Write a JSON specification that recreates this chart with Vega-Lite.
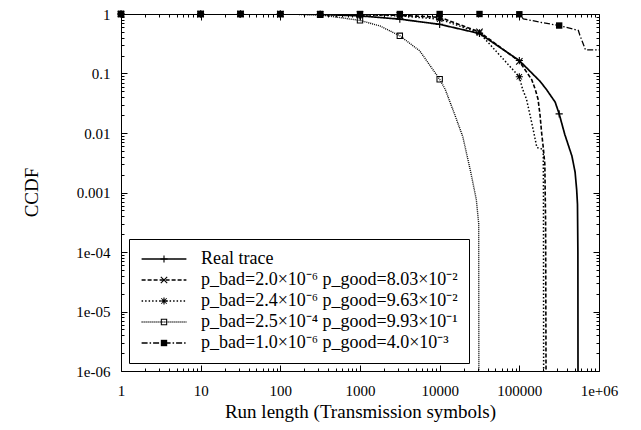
{
  "$schema": "https://vega.github.io/schema/vega-lite/v6.json",
  "width": 478,
  "height": 357,
  "autosize": "none",
  "padding": {"left": 121, "top": 14, "right": 42, "bottom": 59},
  "background": "white",
  "config": {
    "font": "Liberation Serif",
    "view": {"stroke": "black", "strokeWidth": 1},
    "style": {"guide-label": {"font": "Liberation Serif", "fill": "black"}, "guide-title": {"font": "Liberation Serif", "fill": "black"}},
    "axis": {"domain": false, "grid": false, "labelFont": "Liberation Serif", "labelFontSize": 15, "labelColor": "black", "tickColor": "black", "tickWidth": 1, "titleFont": "Liberation Serif", "titleFontSize": 19, "titleFontWeight": "normal", "titleColor": "black"},
    "legend": {"labelFont": "Liberation Serif", "labelFontSize": 18, "labelColor": "black", "labelLimit": 600}
  },
  "datasets": {
    "curves": [
      {"series": "Real trace", "x": 1, "y": 1},
      {"series": "Real trace", "x": 10, "y": 1},
      {"series": "Real trace", "x": 31.62, "y": 1},
      {"series": "Real trace", "x": 100, "y": 0.998},
      {"series": "Real trace", "x": 316.2, "y": 0.985},
      {"series": "Real trace", "x": 1000, "y": 0.93},
      {"series": "Real trace", "x": 3162, "y": 0.82},
      {"series": "Real trace", "x": 10000, "y": 0.67},
      {"series": "Real trace", "x": 31623, "y": 0.47},
      {"series": "Real trace", "x": 100000, "y": 0.165},
      {"series": "Real trace", "x": 181970, "y": 0.074},
      {"series": "Real trace", "x": 218776, "y": 0.054},
      {"series": "Real trace", "x": 281838, "y": 0.033},
      {"series": "Real trace", "x": 316228, "y": 0.021},
      {"series": "Real trace", "x": 371535, "y": 0.0095},
      {"series": "Real trace", "x": 457088, "y": 0.0041},
      {"series": "Real trace", "x": 501187, "y": 0.0022},
      {"series": "Real trace", "x": 524807, "y": 0.0011},
      {"series": "Real trace", "x": 537032, "y": 0.00063},
      {"series": "Real trace", "x": 543250, "y": 0.0001},
      {"series": "Real trace", "x": 545000, "y": 0.000001},

      {"series": "p_bad=2.0×10⁻⁶ p_good=8.03×10⁻²", "x": 1, "y": 1},
      {"series": "p_bad=2.0×10⁻⁶ p_good=8.03×10⁻²", "x": 10, "y": 1},
      {"series": "p_bad=2.0×10⁻⁶ p_good=8.03×10⁻²", "x": 31.62, "y": 1},
      {"series": "p_bad=2.0×10⁻⁶ p_good=8.03×10⁻²", "x": 100, "y": 0.999},
      {"series": "p_bad=2.0×10⁻⁶ p_good=8.03×10⁻²", "x": 316.2, "y": 0.99},
      {"series": "p_bad=2.0×10⁻⁶ p_good=8.03×10⁻²", "x": 1000, "y": 0.98},
      {"series": "p_bad=2.0×10⁻⁶ p_good=8.03×10⁻²", "x": 3162, "y": 0.95},
      {"series": "p_bad=2.0×10⁻⁶ p_good=8.03×10⁻²", "x": 10000, "y": 0.88},
      {"series": "p_bad=2.0×10⁻⁶ p_good=8.03×10⁻²", "x": 31623, "y": 0.5},
      {"series": "p_bad=2.0×10⁻⁶ p_good=8.03×10⁻²", "x": 100000, "y": 0.16},
      {"series": "p_bad=2.0×10⁻⁶ p_good=8.03×10⁻²", "x": 142900, "y": 0.079},
      {"series": "p_bad=2.0×10⁻⁶ p_good=8.03×10⁻²", "x": 158489, "y": 0.054},
      {"series": "p_bad=2.0×10⁻⁶ p_good=8.03×10⁻²", "x": 171791, "y": 0.037},
      {"series": "p_bad=2.0×10⁻⁶ p_good=8.03×10⁻²", "x": 181970, "y": 0.02},
      {"series": "p_bad=2.0×10⁻⁶ p_good=8.03×10⁻²", "x": 190546, "y": 0.01},
      {"series": "p_bad=2.0×10⁻⁶ p_good=8.03×10⁻²", "x": 199526, "y": 0.0058},
      {"series": "p_bad=2.0×10⁻⁶ p_good=8.03×10⁻²", "x": 208930, "y": 0.003},
      {"series": "p_bad=2.0×10⁻⁶ p_good=8.03×10⁻²", "x": 213796, "y": 0.0003},
      {"series": "p_bad=2.0×10⁻⁶ p_good=8.03×10⁻²", "x": 216272, "y": 0.000001},

      {"series": "p_bad=2.4×10⁻⁶ p_good=9.63×10⁻²", "x": 1, "y": 1},
      {"series": "p_bad=2.4×10⁻⁶ p_good=9.63×10⁻²", "x": 10, "y": 1},
      {"series": "p_bad=2.4×10⁻⁶ p_good=9.63×10⁻²", "x": 31.62, "y": 1},
      {"series": "p_bad=2.4×10⁻⁶ p_good=9.63×10⁻²", "x": 100, "y": 0.999},
      {"series": "p_bad=2.4×10⁻⁶ p_good=9.63×10⁻²", "x": 316.2, "y": 0.99},
      {"series": "p_bad=2.4×10⁻⁶ p_good=9.63×10⁻²", "x": 1000, "y": 0.97},
      {"series": "p_bad=2.4×10⁻⁶ p_good=9.63×10⁻²", "x": 3162, "y": 0.93},
      {"series": "p_bad=2.4×10⁻⁶ p_good=9.63×10⁻²", "x": 10000, "y": 0.82},
      {"series": "p_bad=2.4×10⁻⁶ p_good=9.63×10⁻²", "x": 31623, "y": 0.48},
      {"series": "p_bad=2.4×10⁻⁶ p_good=9.63×10⁻²", "x": 100000, "y": 0.088},
      {"series": "p_bad=2.4×10⁻⁶ p_good=9.63×10⁻²", "x": 109648, "y": 0.055},
      {"series": "p_bad=2.4×10⁻⁶ p_good=9.63×10⁻²", "x": 123027, "y": 0.037},
      {"series": "p_bad=2.4×10⁻⁶ p_good=9.63×10⁻²", "x": 142889, "y": 0.015},
      {"series": "p_bad=2.4×10⁻⁶ p_good=9.63×10⁻²", "x": 154882, "y": 0.009},
      {"series": "p_bad=2.4×10⁻⁶ p_good=9.63×10⁻²", "x": 165959, "y": 0.0057},
      {"series": "p_bad=2.4×10⁻⁶ p_good=9.63×10⁻²", "x": 199526, "y": 0.0053},
      {"series": "p_bad=2.4×10⁻⁶ p_good=9.63×10⁻²", "x": 200909, "y": 0.001},
      {"series": "p_bad=2.4×10⁻⁶ p_good=9.63×10⁻²", "x": 201837, "y": 0.000001},

      {"series": "p_bad=2.5×10⁻⁴ p_good=9.93×10⁻¹", "x": 1, "y": 1},
      {"series": "p_bad=2.5×10⁻⁴ p_good=9.93×10⁻¹", "x": 10, "y": 1},
      {"series": "p_bad=2.5×10⁻⁴ p_good=9.93×10⁻¹", "x": 31.62, "y": 1},
      {"series": "p_bad=2.5×10⁻⁴ p_good=9.93×10⁻¹", "x": 100, "y": 0.995},
      {"series": "p_bad=2.5×10⁻⁴ p_good=9.93×10⁻¹", "x": 316.2, "y": 0.97},
      {"series": "p_bad=2.5×10⁻⁴ p_good=9.93×10⁻¹", "x": 1000, "y": 0.78},
      {"series": "p_bad=2.5×10⁻⁴ p_good=9.93×10⁻¹", "x": 1778, "y": 0.63},
      {"series": "p_bad=2.5×10⁻⁴ p_good=9.93×10⁻¹", "x": 3162, "y": 0.43},
      {"series": "p_bad=2.5×10⁻⁴ p_good=9.93×10⁻¹", "x": 5623, "y": 0.24},
      {"series": "p_bad=2.5×10⁻⁴ p_good=9.93×10⁻¹", "x": 10000, "y": 0.08},
      {"series": "p_bad=2.5×10⁻⁴ p_good=9.93×10⁻¹", "x": 11749, "y": 0.054},
      {"series": "p_bad=2.5×10⁻⁴ p_good=9.93×10⁻¹", "x": 15136, "y": 0.022},
      {"series": "p_bad=2.5×10⁻⁴ p_good=9.93×10⁻¹", "x": 19498, "y": 0.0087},
      {"series": "p_bad=2.5×10⁻⁴ p_good=9.93×10⁻¹", "x": 24547, "y": 0.0022},
      {"series": "p_bad=2.5×10⁻⁴ p_good=9.93×10⁻¹", "x": 28840, "y": 0.00076},
      {"series": "p_bad=2.5×10⁻⁴ p_good=9.93×10⁻¹", "x": 30903, "y": 0.0003},
      {"series": "p_bad=2.5×10⁻⁴ p_good=9.93×10⁻¹", "x": 31046, "y": 0.000001},

      {"series": "p_bad=1.0×10⁻⁶ p_good=4.0×10⁻³", "x": 1, "y": 1},
      {"series": "p_bad=1.0×10⁻⁶ p_good=4.0×10⁻³", "x": 10, "y": 1},
      {"series": "p_bad=1.0×10⁻⁶ p_good=4.0×10⁻³", "x": 31.62, "y": 1},
      {"series": "p_bad=1.0×10⁻⁶ p_good=4.0×10⁻³", "x": 100, "y": 1},
      {"series": "p_bad=1.0×10⁻⁶ p_good=4.0×10⁻³", "x": 316.2, "y": 1},
      {"series": "p_bad=1.0×10⁻⁶ p_good=4.0×10⁻³", "x": 1000, "y": 1},
      {"series": "p_bad=1.0×10⁻⁶ p_good=4.0×10⁻³", "x": 3162, "y": 1},
      {"series": "p_bad=1.0×10⁻⁶ p_good=4.0×10⁻³", "x": 10000, "y": 1},
      {"series": "p_bad=1.0×10⁻⁶ p_good=4.0×10⁻³", "x": 31623, "y": 1},
      {"series": "p_bad=1.0×10⁻⁶ p_good=4.0×10⁻³", "x": 100000, "y": 0.99},
      {"series": "p_bad=1.0×10⁻⁶ p_good=4.0×10⁻³", "x": 112202, "y": 0.83},
      {"series": "p_bad=1.0×10⁻⁶ p_good=4.0×10⁻³", "x": 190546, "y": 0.72},
      {"series": "p_bad=1.0×10⁻⁶ p_good=4.0×10⁻³", "x": 316228, "y": 0.64},
      {"series": "p_bad=1.0×10⁻⁶ p_good=4.0×10⁻³", "x": 549541, "y": 0.53},
      {"series": "p_bad=1.0×10⁻⁶ p_good=4.0×10⁻³", "x": 575440, "y": 0.44},
      {"series": "p_bad=1.0×10⁻⁶ p_good=4.0×10⁻³", "x": 630957, "y": 0.32},
      {"series": "p_bad=1.0×10⁻⁶ p_good=4.0×10⁻³", "x": 676083, "y": 0.25},
      {"series": "p_bad=1.0×10⁻⁶ p_good=4.0×10⁻³", "x": 1000000, "y": 0.25}
    ]
  },
  "data": {"name": "curves"},
  "layer": [
    {
      "transform": [{"filter": {"field": "x", "oneOf": [1, 10, 31.62, 100, 316.2, 1000, 3162, 10000, 31623, 100000, 316228]}}],
      "mark": {"type": "point", "filled": true, "color": "black", "size": 256, "opacity": 1},
      "encoding": {
        "x": {"field": "x", "type": "quantitative",
          "scale": {"type": "log", "domain": [1, 1000000], "nice": false},
          "axis": {"orient": "top", "title": null, "labels": false,
            "values": [1,2,3,4,5,6,7,8,9,10,20,30,40,50,60,70,80,90,100,200,300,400,500,600,700,800,900,1000,2000,3000,4000,5000,6000,7000,8000,9000,10000,20000,30000,40000,50000,60000,70000,80000,90000,100000,200000,300000,400000,500000,600000,700000,800000,900000,1000000],
            "tickSize": {"condition": {"test": "abs(log(datum.value)/LN10 - round(log(datum.value)/LN10)) < 0.001", "value": -6}, "value": -3}}},
        "y": {"field": "y", "type": "quantitative",
          "scale": {"type": "log", "domain": [0.000001, 1], "nice": false},
          "axis": {"orient": "right", "title": null, "labels": false,
            "values": [0.000001,0.000002,0.000003,0.000004,0.000005,0.000006,0.000007,0.000008,0.000009,0.00001,0.00002,0.00003,0.00004,0.00005,0.00006,0.00007,0.00008,0.00009,0.0001,0.0002,0.0003,0.0004,0.0005,0.0006,0.0007,0.0008,0.0009,0.001,0.002,0.003,0.004,0.005,0.006,0.007,0.008,0.009,0.01,0.02,0.03,0.04,0.05,0.06,0.07,0.08,0.09,0.1,0.2,0.3,0.4,0.5,0.6,0.7,0.8,0.9,1],
            "tickSize": {"condition": {"test": "abs(log(datum.value)/LN10 - round(log(datum.value)/LN10)) < 0.001", "value": -6}, "value": -3}}},
        "shape": {"field": "series", "type": "nominal",
          "scale": {"domain": ["Real trace", "p_bad=2.0×10⁻⁶ p_good=8.03×10⁻²", "p_bad=2.4×10⁻⁶ p_good=9.63×10⁻²", "p_bad=2.5×10⁻⁴ p_good=9.93×10⁻¹", "p_bad=1.0×10⁻⁶ p_good=4.0×10⁻³"],
            "range": [
              "M-0.45,-0.07H0.45V0.07H-0.45ZM0.07,-0.45V0.45H-0.07V-0.45Z",
              "M-0.35,-0.45L0.45,0.35L0.35,0.45L-0.45,-0.35ZM-0.45,0.35L0.35,-0.45L0.45,-0.35L-0.35,0.45Z",
              "M-0.45,-0.07H0.45V0.07H-0.45ZM0.07,-0.45V0.45H-0.07V-0.45ZM-0.3,-0.38L0.38,0.3L0.3,0.38L-0.38,-0.3ZM-0.38,0.3L0.3,-0.38L0.38,-0.3L-0.3,0.38ZM-0.2,-0.2H0.2V0.2H-0.2Z",
              "M-0.4,-0.4H0.4V0.4H-0.4ZM-0.27,-0.27V0.27H0.27V-0.27Z",
              "M-0.4,-0.4H0.4V0.4H-0.4Z"]},
          "legend": {"orient": "bottom-left", "offset": 8, "title": null, "padding": 11, "symbolSize": 256, "symbolStrokeWidth": 0, "symbolFillColor": "black", "symbolOffset": 15,
            "labelFont": "Liberation Serif", "labelFontSize": 18, "labelOffset": 28, "rowPadding": 3, "labelOpacity": 0, "zindex": 2}}
      }
    },
    {
      "mark": {"type": "line", "color": "black", "clip": true},
      "encoding": {
        "x": {"field": "x", "type": "quantitative",
          "axis": {"orient": "bottom", "title": "Run length (Transmission symbols)",
            "values": [1,2,3,4,5,6,7,8,9,10,20,30,40,50,60,70,80,90,100,200,300,400,500,600,700,800,900,1000,2000,3000,4000,5000,6000,7000,8000,9000,10000,20000,30000,40000,50000,60000,70000,80000,90000,100000,200000,300000,400000,500000,600000,700000,800000,900000,1000000],
            "labelExpr": "abs(log(datum.value)/LN10 - round(log(datum.value)/LN10)) < 0.001 ? (datum.value >= 1000000 ? '1e+06' : toString(datum.value)) : ''",
            "tickSize": {"condition": {"test": "abs(log(datum.value)/LN10 - round(log(datum.value)/LN10)) < 0.001", "value": -6}, "value": -3},
            "labelFont": "Liberation Serif", "titleFont": "Liberation Serif",
            "labelPadding": 18, "labelFlush": false, "labelOverlap": false,
            "titleY": 46, "titleBaseline": "alphabetic"}},
        "y": {"field": "y", "type": "quantitative",
          "axis": {"orient": "left", "title": "CCDF",
            "values": [0.000001,0.000002,0.000003,0.000004,0.000005,0.000006,0.000007,0.000008,0.000009,0.00001,0.00002,0.00003,0.00004,0.00005,0.00006,0.00007,0.00008,0.00009,0.0001,0.0002,0.0003,0.0004,0.0005,0.0006,0.0007,0.0008,0.0009,0.001,0.002,0.003,0.004,0.005,0.006,0.007,0.008,0.009,0.01,0.02,0.03,0.04,0.05,0.06,0.07,0.08,0.09,0.1,0.2,0.3,0.4,0.5,0.6,0.7,0.8,0.9,1],
            "labelExpr": "abs(log(datum.value)/LN10 - round(log(datum.value)/LN10)) < 0.001 ? (datum.value >= 0.001 ? toString(datum.value) : '1e-0' + toString(round(-log(datum.value)/LN10))) : ''",
            "tickSize": {"condition": {"test": "abs(log(datum.value)/LN10 - round(log(datum.value)/LN10)) < 0.001", "value": -6}, "value": -3},
            "labelFont": "Liberation Serif", "titleFont": "Liberation Serif",
            "labelPadding": 17, "labelFlush": false, "labelOverlap": false,
            "titleX": -84, "titleY": 178, "titleBaseline": "alphabetic", "titleAngle": -90}},
        "strokeDash": {"field": "series", "type": "nominal",
          "scale": {"domain": ["Real trace", "p_bad=2.0×10⁻⁶ p_good=8.03×10⁻²", "p_bad=2.4×10⁻⁶ p_good=9.63×10⁻²", "p_bad=2.5×10⁻⁴ p_good=9.93×10⁻¹", "p_bad=1.0×10⁻⁶ p_good=4.0×10⁻³"],
            "range": [[1, 0], [4, 2], [1.5, 2], [1, 1], [6, 2, 1.5, 2]]},
          "legend": {"orient": "none", "legendX": 8, "legendY": 225, "title": null, "strokeColor": "black", "padding": 11,
            "symbolType": "M-2.8,0H2.8", "symbolSize": 256, "symbolStrokeWidth": 1.2, "symbolStrokeColor": "black", "symbolOffset": 15,
            "labelFont": "Liberation Serif", "labelFontSize": 18, "labelOffset": 28, "rowPadding": 3, "zindex": 1}},
        "strokeWidth": {"field": "series", "type": "nominal",
          "scale": {"domain": ["Real trace", "p_bad=2.0×10⁻⁶ p_good=8.03×10⁻²", "p_bad=2.4×10⁻⁶ p_good=9.63×10⁻²", "p_bad=2.5×10⁻⁴ p_good=9.93×10⁻¹", "p_bad=1.0×10⁻⁶ p_good=4.0×10⁻³"],
            "range": [1.7, 1.3, 1.3, 1.1, 1.2]},
          "legend": null}
      }
    }
  ]
}
